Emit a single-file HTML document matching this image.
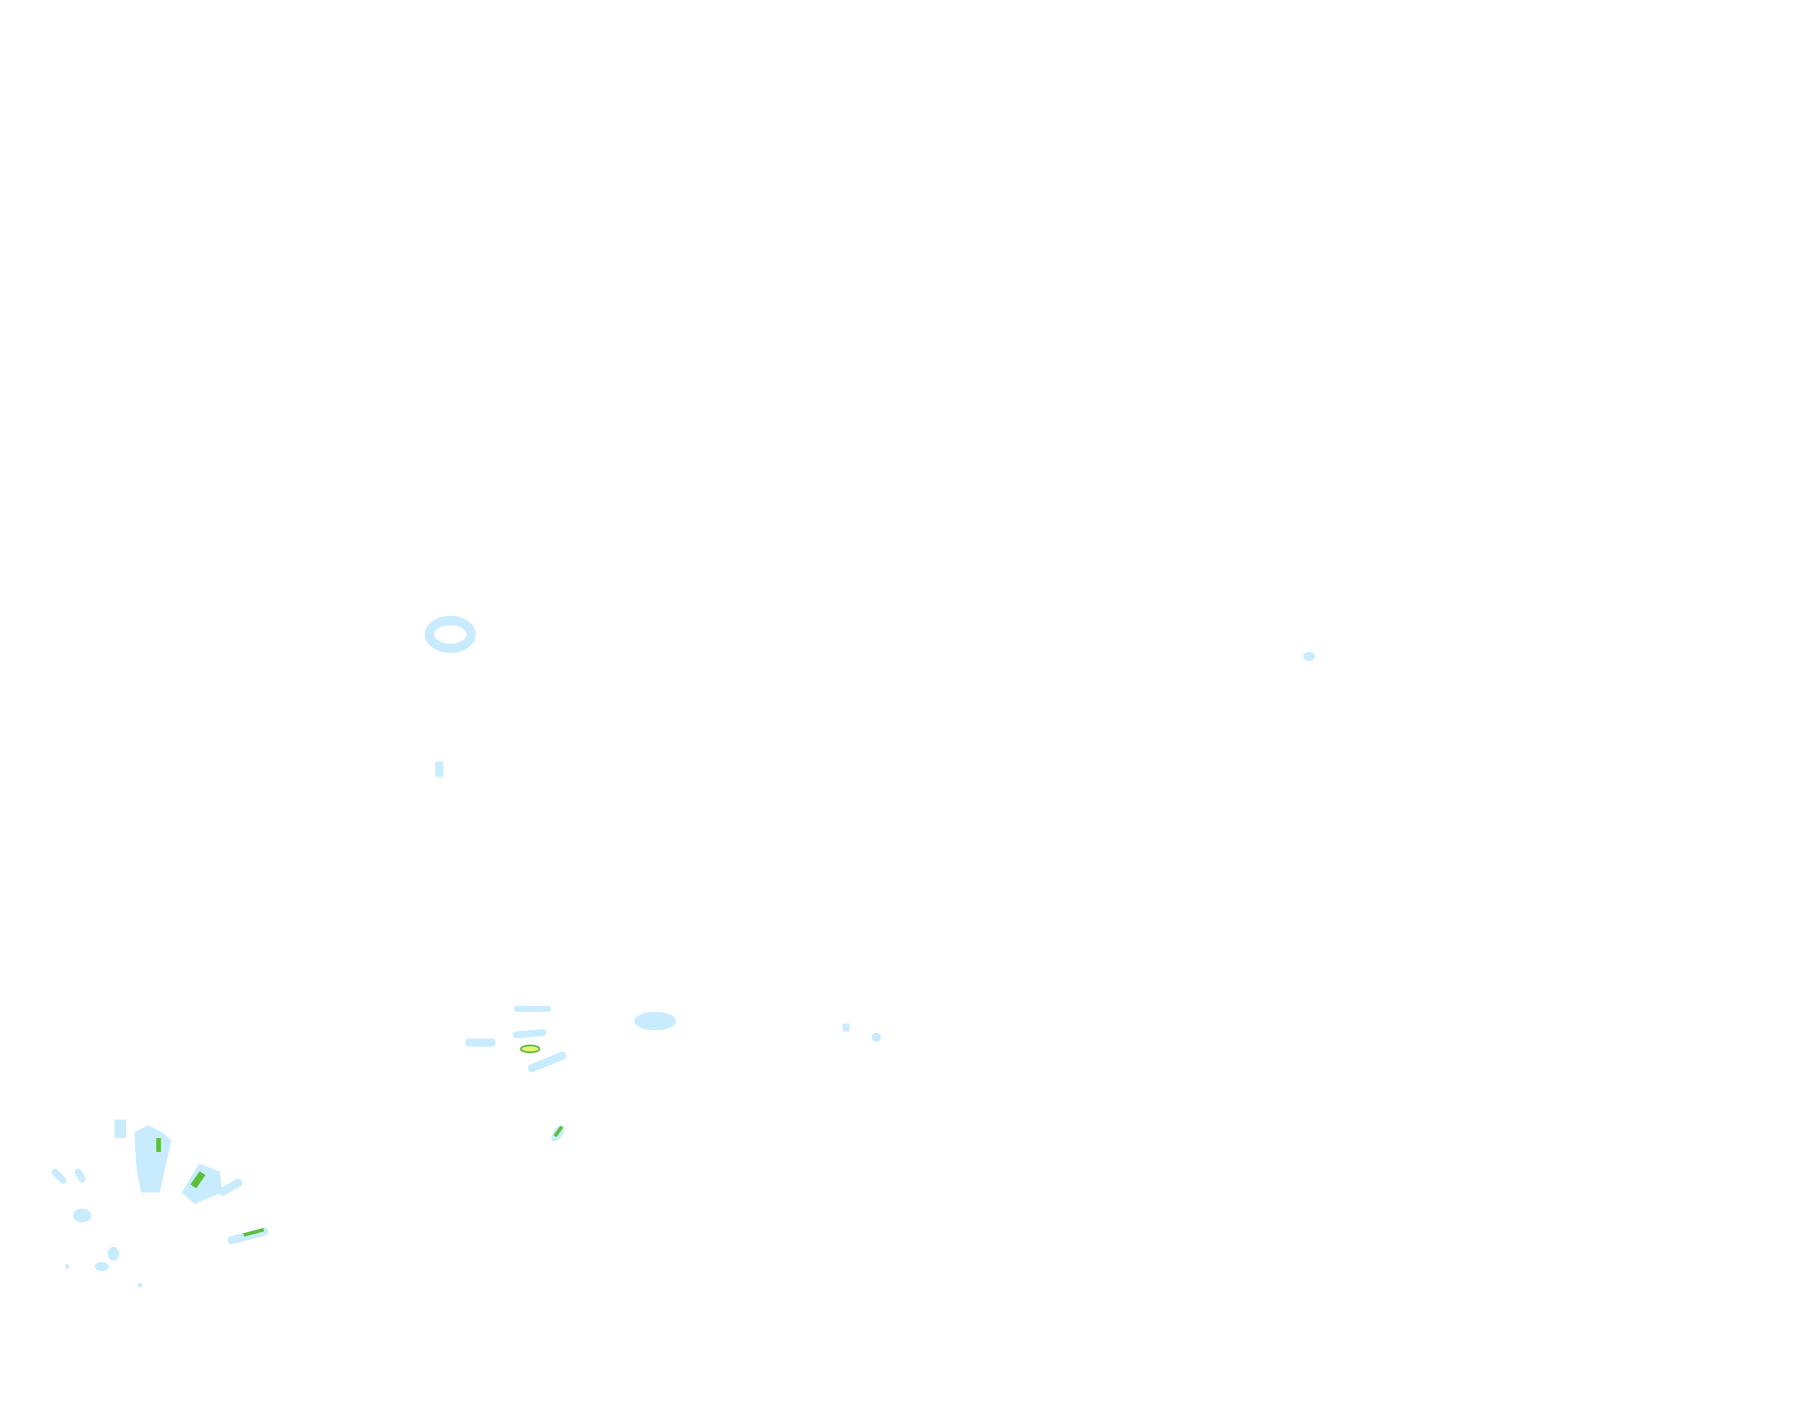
<!DOCTYPE html>
<html><head><meta charset="utf-8"><style>
html,body{margin:0;padding:0;background:#fff;width:1815px;height:1424px;overflow:hidden}
svg{display:block}
</style></head><body>
<svg width="1815" height="1424" viewBox="0 0 1568 1230" preserveAspectRatio="none" xmlns="http://www.w3.org/2000/svg">
<rect width="1568" height="1230" fill="#fff"/>
<g fill="#c8ebfd">
<ellipse cx="389" cy="548" rx="18" ry="12" fill="none" stroke="#c8ebfd" stroke-width="8"/>
<rect x="376" y="658" width="7" height="13"/>
<ellipse cx="1131" cy="567" rx="5" ry="4"/>
<rect x="444" y="869" width="32" height="5" rx="2"/>
<rect x="443" y="890" width="29" height="6" rx="3" transform="rotate(-5 457 893)"/>
<rect x="402" y="897" width="26" height="7" rx="3"/>
<rect x="455" y="914" width="35" height="7" rx="3" transform="rotate(-22 472 917)"/>
<ellipse cx="566" cy="882" rx="18" ry="8"/>
<rect x="728" y="884" width="6" height="7"/>
<ellipse cx="757" cy="896" rx="4" ry="4"/>
<rect x="99" y="967" width="10" height="16"/>
<polygon points="116,978 128,972 140,978 148,985 138,1030 128,1030 122,1030 118,1010"/>
<polygon points="157,1030 172,1005 190,1012 192,1030 168,1040"/>
<rect x="188" y="1022" width="22" height="7" rx="3" transform="rotate(-30 199 1025)"/>
<rect x="43" y="1013" width="16" height="6" rx="3" transform="rotate(45 51 1016)"/>
<rect x="63" y="1012" width="13" height="6" rx="3" transform="rotate(60 69 1015)"/>
<ellipse cx="71" cy="1050" rx="8" ry="6"/>
<ellipse cx="98" cy="1083" rx="5" ry="6"/>
<ellipse cx="88" cy="1094" rx="6" ry="4"/>
<rect x="196" y="1064" width="36" height="7" rx="3" transform="rotate(-15 214 1067)"/>
<ellipse cx="482" cy="979" rx="4" ry="8" transform="rotate(35 482 979)"/>
<circle cx="121" cy="1110" r="2"/><circle cx="58" cy="1094" r="2"/>
</g>
<g fill="#5cbf3a">
<rect x="135" y="983" width="4" height="12"/>
<rect x="168" y="1012" width="6" height="14" transform="rotate(35 171 1019)"/>
<rect x="210" y="1063" width="18" height="3" transform="rotate(-15 219 1064)"/>
<rect x="481" y="972" width="3" height="10" transform="rotate(35 482 977)"/>
</g>
<ellipse cx="458" cy="906" rx="8" ry="3" fill="#e8f27a" stroke="#5cbf3a" stroke-width="1.5"/>
</svg>
</body></html>
